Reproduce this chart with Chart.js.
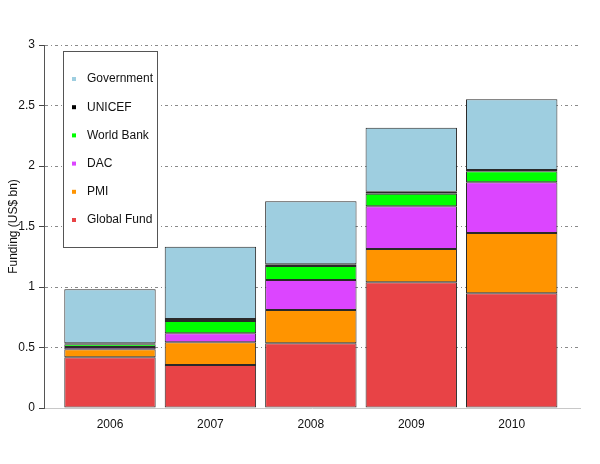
<!DOCTYPE html>
<html>
<head>
<meta charset="utf-8">
<script src="https://cdn.jsdelivr.net/npm/chart.js@4/dist/chart.umd.min.js"></script>
<style>
  html, body { margin: 0; padding: 0; background: #fff; }
  #wrap { width: 600px; height: 464px; }
</style>
</head>
<body>
<div id="wrap"><canvas id="fundChart"></canvas></div>
<script>
// Data (US$ bn)
const years = ['2006', '2007', '2008', '2009', '2010'];
const globalFund = [0.419, 0.355, 0.535, 1.039, 0.948];
const pmi        = [0.066, 0.188, 0.275, 0.275, 0.498];
const dac        = [0.019, 0.074, 0.248, 0.353, 0.419];
const worldBank  = [0.022, 0.102, 0.116, 0.104, 0.091];
const unicef     = [0.009, 0.017, 0.015, 0.017, 0.011];
const government = [0.446, 0.597, 0.520, 0.529, 0.584];
const yTicks = [0, 0.5, 1, 1.5, 2, 2.5, 3];

const FONT = '"Liberation Sans", Arial, Helvetica, sans-serif';

function series(label, values, color) {
    return {
        label: label,
        data: values.map((v, i) => ({ x: i, y: v })),
        backgroundColor: color,
        borderColor: '#2a2a2a',
        borderWidth: 1,
        borderSkipped: false,
        barPercentage: 0.91,
        categoryPercentage: 1.0
    };
}

// Legend box drawn inside the plot, top-left
const boxLegend = {
    id: 'boxLegend',
    afterDraw(chart) {
        const ctx = chart.ctx;
        const left = chart.chartArea.left + 19;
        const top = chart.chartArea.top + 6;
        const w = 94, h = 196;
        ctx.save();
        ctx.fillStyle = '#fff';
        ctx.fillRect(left, top, w, h);
        ctx.strokeStyle = '#555';
        ctx.lineWidth = 1;
        ctx.strokeRect(left + 0.5, top + 0.5, w, h);
        ctx.font = '12px ' + FONT;
        ctx.textBaseline = 'middle';
        const items = chart.data.datasets.slice().reverse();
        items.forEach((ds, i) => {
            const y = top + 28 + i * 28.2;
            ctx.fillStyle = ds.backgroundColor;
            ctx.fillRect(left + 9, y - 2, 4, 4);
            ctx.fillStyle = '#111';
            ctx.fillText(ds.label, left + 24, y);
        });
        ctx.restore();
    }
};

new Chart(document.getElementById('fundChart'), {
    type: 'bar',
    data: {
        datasets: [
            series('Global Fund', globalFund, '#E84346'),
            series('PMI', pmi, '#FF9400'),
            series('DAC', dac, '#DC45FF'),
            series('World Bank', worldBank, '#00FF00'),
            series('UNICEF', unicef, '#000000'),
            series('Government', government, '#9ECEE0')
        ]
    },
    options: {
        responsive: true,
        maintainAspectRatio: false,
        animation: false,
        layout: { padding: { top: 45, right: 20, left: 0, bottom: 0 } },
        plugins: {
            legend: { display: false },
            tooltip: { enabled: false }
        },
        scales: {
            x: {
                type: 'linear',
                stacked: true,
                offset: false,
                min: -0.657,
                max: 4.68,
                afterBuildTicks: (scale) => {
                    scale.ticks = years.map((_, i) => ({ value: i }));
                },
                afterFit: (scale) => { scale.height = 56; },
                grid: { display: false, drawTicks: false },
                border: { display: true, color: '#c8c8c8', width: 1 },
                ticks: {
                    padding: 9,
                    color: '#111',
                    font: { family: FONT, size: 12 },
                    callback: (v) => years[v]
                }
            },
            y: {
                stacked: true,
                min: 0,
                max: 3,
                afterBuildTicks: (scale) => {
                    scale.ticks = yTicks.map(v => ({ value: v }));
                },
                afterFit: (scale) => { scale.width = 44; },
                grid: {
                    color: (c) => (c.tick && c.tick.value === 0) ? 'rgba(0,0,0,0)' : '#8a8a8a',
                    lineWidth: 1,
                    tickLength: 5,
                    tickColor: '#444',
                    tickBorderDash: []
                },
                border: { display: true, color: '#555', width: 1, dash: [3, 3, 1, 3] },
                title: {
                    display: true,
                    text: 'Funding (US$ bn)',
                    color: '#111',
                    font: { family: FONT, size: 12 },
                    padding: { top: 6, bottom: 0 }
                },
                ticks: {
                    padding: 4,
                    color: '#111',
                    font: { family: FONT, size: 12 },
                    callback: (v) => String(v)
                }
            }
        }
    },
    plugins: [boxLegend]
});
</script>
</body>
</html>
